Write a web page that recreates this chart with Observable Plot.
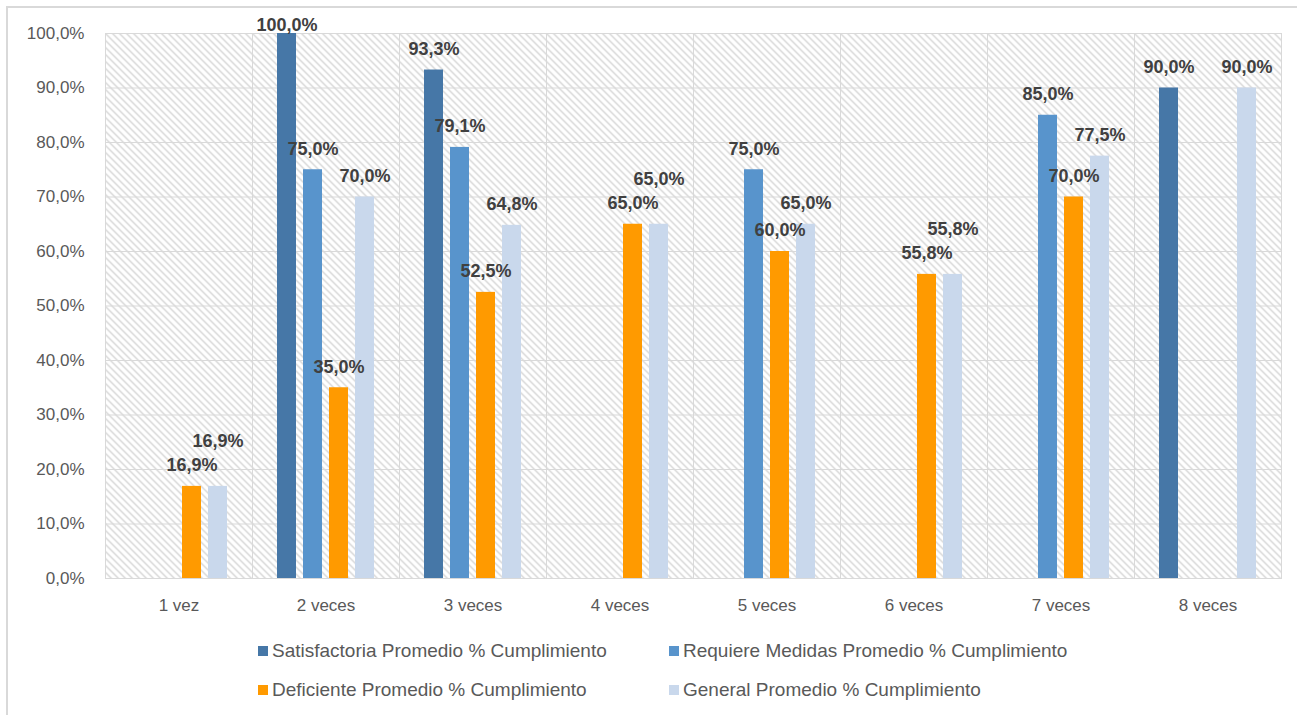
<!DOCTYPE html>
<html>
<head>
<meta charset="utf-8">
<script src="https://cdn.jsdelivr.net/npm/d3@7"></script>
<script src="https://cdn.jsdelivr.net/npm/@observablehq/plot@0.6"></script>
<style>
  html, body { margin: 0; padding: 0; background: #fff; }
  #wrap { position: relative; width: 1297px; height: 715px; overflow: hidden; font-family: "Liberation Sans", Arial, sans-serif; }
  #border { position: absolute; left: 6px; top: 6px; width: 1300px; height: 720px; border-top: 2px solid #d9d9d9; border-left: 2px solid #d9d9d9; }
  #chart { position: absolute; left: 0; top: 0; }
  #legend { position: absolute; left: 258px; top: 640px; display: grid; grid-template-columns: 411px 430px; row-gap: 18px; }
  .item { display: flex; align-items: center; font-size: 19px; color: #595959; white-space: nowrap; height: 21px; }
  .sw { width: 10px; height: 10px; margin-right: 4px; flex: none; }
</style>
</head>
<body>
<div id="wrap">
  <div id="border"></div>
  <div id="chart"></div>
  <div id="legend"></div>
</div>
<script>
const categories = ["1 vez", "2 veces", "3 veces", "4 veces", "5 veces", "6 veces", "7 veces", "8 veces"];
const series = [
  "Satisfactoria Promedio % Cumplimiento",
  "Requiere Medidas Promedio % Cumplimiento",
  "Deficiente Promedio % Cumplimiento",
  "General Promedio % Cumplimiento"
];
const satisfactoria = [null, 100, 93.3, null, null, null, null, 90];
const requiere      = [null, 75, 79.1, null, 75, null, 85, null];
const deficiente    = [16.9, 35, 52.5, 65, 60, 55.8, 70, null];
const general       = [16.9, 70, 64.8, 65, 65, 55.8, 77.5, 90];
const yTicks = [0, 10, 20, 30, 40, 50, 60, 70, 80, 90, 100];
const colors = ["#4677A7", "#5894CC", "#FF9A00", "#C9D8EC"];

const values = [satisfactoria, requiere, deficiente, general];

const W = 1297, H = 630, mT = 33, mB = 52, mL = 103, mR = 15;
const ppu = (H - mT - mB) / 100; // pixels per percentage point
const fmt = v => d3.format(".1f")(v).replace(".", ",") + "%";

// rows + label placement rule (lift a label that would collide with a neighbour's)
const rows = [];
categories.forEach((cat, ci) => {
  const placed = [];
  values.forEach((arr, si) => {
    const v = arr[ci];
    if (v == null) return;
    let ly = v + 21 / ppu;
    for (const p of placed) {
      if (Math.abs(si - p.si) <= 2 && Math.abs(ly - p.ly) * ppu < 18) ly += 24 / ppu;
    }
    ly = Math.min(ly, 100 + 8 / ppu);
    placed.push({si, ly});
    rows.push({cat, series: series[si], value: v, labelY: ly, label: fmt(v)});
  });
});

const chart = Plot.plot({
  width: W, height: H,
  marginTop: mT, marginBottom: mB, marginLeft: mL, marginRight: mR,
  style: {fontFamily: "'Liberation Sans', Arial, sans-serif", background: "transparent"},
  fx: {domain: categories, padding: 0, label: null, axis: null},
  x: {domain: series, paddingInner: 0.283, paddingOuter: 0.92, axis: null},
  y: {domain: [0, 100], label: null},
  color: {domain: series, range: colors},
  marks: [
    Plot.frame({fill: "url(#hatch)", stroke: "#d9d9d9", strokeWidth: 1}),
    Plot.gridY(yTicks, {stroke: "#d9d9d9", strokeOpacity: 1, strokeWidth: 1}),
    Plot.axisY(yTicks, {tickSize: 0, tickPadding: 21, tickFormat: fmt, fontSize: 17, fill: "#595959", label: null}),
    Plot.axisFx({anchor: "bottom", tickSize: 0, tickPadding: 20, fontSize: 17, fill: "#595959", label: null}),
    Plot.barY(rows, {fx: "cat", x: "series", y: "value", fill: "series"}),
    Plot.text(rows, {fx: "cat", x: "series", y: "labelY", text: "label", fontSize: 18, fontWeight: "bold", fill: "#404040", lineAnchor: "middle"})
  ]
});

// hatch pattern for the plot area background
const ns = "http://www.w3.org/2000/svg";
const defs = document.createElementNS(ns, "defs");
defs.innerHTML = `<pattern id="hatch" patternUnits="userSpaceOnUse" width="7" height="7">
  <rect width="7" height="7" fill="#ffffff"/>
  <path d="M-1,-1 L8,8 M-1,6 L1,8 M6,-1 L8,1" stroke="#c8c8c8" stroke-width="1.1"/>
</pattern>`;
chart.insertBefore(defs, chart.firstChild);
document.getElementById("chart").appendChild(chart);

// legend (2 x 2)
const legend = document.getElementById("legend");
series.forEach((s, i) => {
  const item = document.createElement("div");
  item.className = "item";
  const sw = document.createElement("span");
  sw.className = "sw";
  sw.style.background = colors[i];
  item.appendChild(sw);
  item.appendChild(document.createTextNode(s));
  legend.appendChild(item);
});
</script>
</body>
</html>
